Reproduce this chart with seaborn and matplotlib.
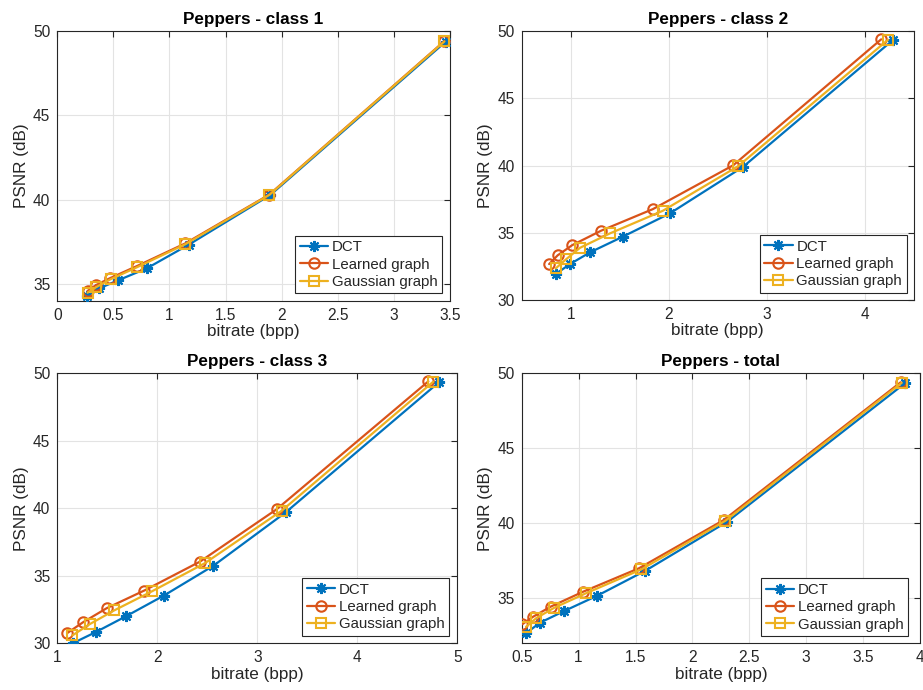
import matplotlib
matplotlib.use("Agg")
import matplotlib.pyplot as plt
import seaborn as sns

# ---------------- data ----------------
titles = ["Peppers - class 1", "Peppers - class 2", "Peppers - class 3", "Peppers - total"]
series_names = ["DCT", "Learned graph", "Gaussian graph"]

c1_dct_x = [0.268, 0.375, 0.545, 0.80, 1.17, 1.90, 3.46]
c1_dct_y = [34.29, 34.74, 35.22, 35.93, 37.32, 40.28, 49.36]
c1_lrn_x = [0.27, 0.343, 0.47, 0.714, 1.14, 1.89, 3.45]
c1_lrn_y = [34.58, 34.92, 35.34, 36.07, 37.40, 40.30, 49.40]
c1_gau_x = [0.27, 0.35, 0.476, 0.714, 1.14, 1.89, 3.45]
c1_gau_y = [34.48, 34.82, 35.28, 36.00, 37.35, 40.28, 49.38]

c2_dct_x = [0.847, 0.993, 1.197, 1.53, 2.013, 2.76, 4.29]
c2_dct_y = [31.93, 32.67, 33.54, 34.70, 36.44, 39.90, 49.33]
c2_lrn_x = [0.78, 0.867, 1.016, 1.31, 1.84, 2.66, 4.17]
c2_lrn_y = [32.67, 33.32, 34.08, 35.15, 36.76, 40.02, 49.38]
c2_gau_x = [0.847, 0.952, 1.095, 1.40, 1.94, 2.71, 4.24]
c2_gau_y = [32.35, 33.02, 33.88, 34.95, 36.63, 39.95, 49.35]

c3_dct_x = [1.154, 1.387, 1.684, 2.067, 2.56, 3.284, 4.82]
c3_dct_y = [30.00, 30.84, 31.99, 33.54, 35.74, 39.70, 49.36]
c3_lrn_x = [1.10, 1.26, 1.494, 1.87, 2.427, 3.194, 4.71]
c3_lrn_y = [30.76, 31.57, 32.60, 33.91, 36.05, 39.93, 49.40]
c3_gau_x = [1.15, 1.327, 1.567, 1.944, 2.477, 3.244, 4.76]
c3_gau_y = [30.58, 31.43, 32.43, 33.84, 35.94, 39.82, 49.38]

c4_dct_x = [0.538, 0.66, 0.873, 1.163, 1.587, 2.305, 3.87]
c4_dct_y = [32.67, 33.37, 34.15, 35.17, 36.84, 40.10, 49.35]
c4_lrn_x = [0.505, 0.60, 0.754, 1.04, 1.53, 2.276, 3.83]
c4_lrn_y = [33.27, 33.77, 34.44, 35.44, 37.00, 40.22, 49.40]
c4_gau_x = [0.538, 0.63, 0.786, 1.063, 1.552, 2.29, 3.84]
c4_gau_y = [33.10, 33.69, 34.37, 35.33, 36.93, 40.17, 49.37]

xticks_list = [[0, 0.5, 1, 1.5, 2, 2.5, 3, 3.5], [1, 2, 3, 4], [1, 2, 3, 4, 5],
               [0.5, 1, 1.5, 2, 2.5, 3, 3.5, 4]]
xtick_labels = [["0", "0.5", "1", "1.5", "2", "2.5", "3", "3.5"], ["1", "2", "3", "4"],
                ["1", "2", "3", "4", "5"], ["0.5", "1", "1.5", "2", "2.5", "3", "3.5", "4"]]
yticks_list = [[35, 40, 45, 50], [30, 35, 40, 45, 50], [30, 35, 40, 45, 50], [35, 40, 45, 50]]
xlims = [(0, 3.5), (0.5, 4.5), (1, 5), (0.5, 4)]
ylims = [(34, 50), (30, 50), (30, 50), (32, 50)]

panels = [
    [(c1_dct_x, c1_dct_y), (c1_lrn_x, c1_lrn_y), (c1_gau_x, c1_gau_y)],
    [(c2_dct_x, c2_dct_y), (c2_lrn_x, c2_lrn_y), (c2_gau_x, c2_gau_y)],
    [(c3_dct_x, c3_dct_y), (c3_lrn_x, c3_lrn_y), (c3_gau_x, c3_gau_y)],
    [(c4_dct_x, c4_dct_y), (c4_lrn_x, c4_lrn_y), (c4_gau_x, c4_gau_y)],
]

# ---------------- style ----------------
sns.set_theme(style="white")
plt.rcParams["font.family"] = ["Liberation Sans", "DejaVu Sans"]

colors = ["#0072BD", "#D95319", "#EDB120"]
markers = [(8, 2, 0), "o", "s"]
msizes = [8, 7.5, 7]
dark = "#262626"

W, H = 923, 690
fig = plt.figure(figsize=(W / 100, H / 100), dpi=100)

# axes boxes in pixels: left, right, top, bottom
boxes = [(57.2, 450, 31, 300.8), (521.7, 913.5, 31, 300),
         (57.3, 457.3, 373.3, 643.3), (521.7, 920, 373.3, 643.3)]
# legend lower-right corners in pixels
leg_corners = [(442, 293.3), (906.7, 292.7), (449, 635.7), (908.3, 636)]

for i in range(4):
    l, r, t, b = boxes[i]
    ax = fig.add_axes([l / W, (H - b) / H, (r - l) / W, (b - t) / H])
    for j in range(3):
        xs, ys = panels[i][j]
        sns.lineplot(x=xs, y=ys, ax=ax, color=colors[j], marker=markers[j],
                     markersize=msizes[j], markerfacecolor="none",
                     markeredgecolor=colors[j], markeredgewidth=1.5,
                     linewidth=1.6, label=series_names[j], errorbar=None,
                     sort=False, zorder=3 + j)
    ax.set_xlim(*xlims[i])
    ax.set_ylim(*ylims[i])
    ax.set_xticks(xticks_list[i])
    ax.set_xticklabels(xtick_labels[i])
    ax.set_yticks(yticks_list[i])
    ax.grid(True, color="#E3E3E3", linewidth=0.8)
    ax.set_axisbelow(True)
    for s in ax.spines.values():
        s.set_visible(True)
        s.set_color(dark)
        s.set_linewidth(0.8)
    ax.tick_params(direction="in", length=4, width=0.8, colors=dark,
                   labelsize=11.2, top=True, right=True, pad=5,
                   labelcolor=dark)
    ax.set_title(titles[i], fontsize=12.3, fontweight="bold", color="black", pad=5)
    ax.set_xlabel("bitrate (bpp)", fontsize=12.3, color=dark, labelpad=1)
    ax.set_ylabel("PSNR (dB)", fontsize=12.3, color=dark, labelpad=3)

    lx, ly = leg_corners[i]
    leg = ax.legend(loc="lower right",
                    bbox_to_anchor=((lx - l) / (r - l), (b - ly) / (b - t)),
                    borderaxespad=0, fontsize=10.8, frameon=True, fancybox=False,
                    handlelength=1.9, handletextpad=0.25, borderpad=0.3,
                    labelspacing=0.22, edgecolor=dark, framealpha=1)
    leg.get_frame().set_linewidth(0.8)

fig.savefig("out.png", dpi=100, facecolor="white")
